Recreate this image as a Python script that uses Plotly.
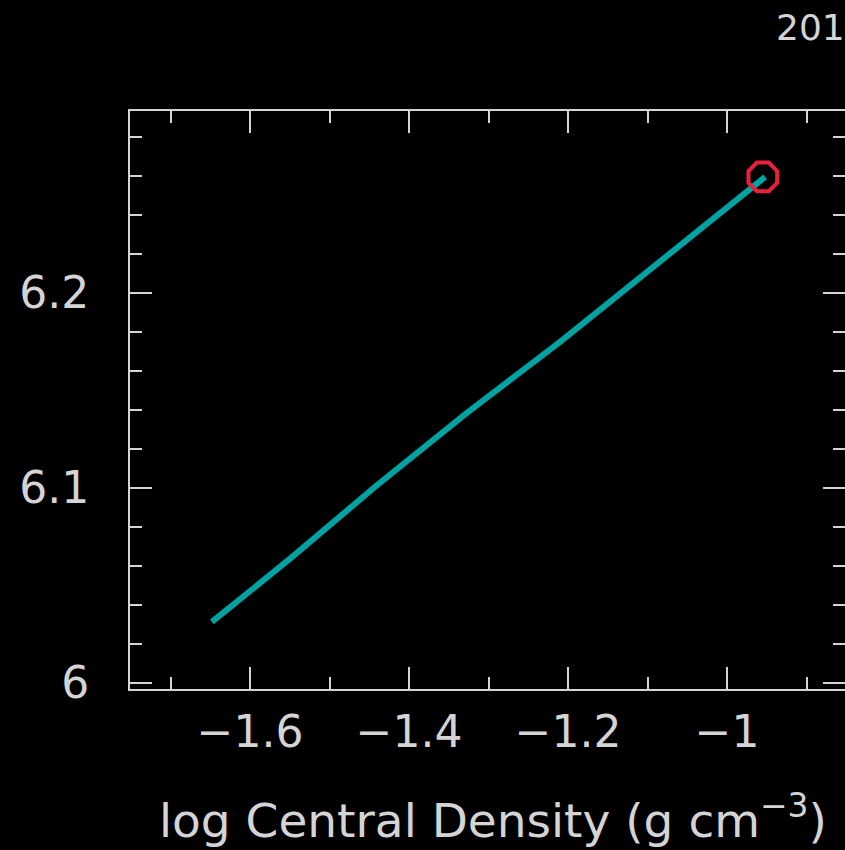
import plotly.graph_objects as go

# Data
log_rho_c = [-1.648, -1.55, -1.44, -1.33, -1.21, -1.10, -1.00, -0.952]
log_tc = [6.0313, 6.0636, 6.1015, 6.1376, 6.1749, 6.2110, 6.2437, 6.2595]
current_x = [-0.955]
current_y = [6.2595]

x_range = [-1.751, -0.8516]
y_range = [5.9969, 6.2933]

AX = "#d4d4d4"
FONT = "DejaVu Sans, Liberation Sans, sans-serif"

fig = go.Figure()
fig.add_trace(go.Scatter(x=log_rho_c, y=log_tc, mode="lines",
                         line=dict(color="#00a2a2", width=6),
                         hoverinfo="skip", showlegend=False))
fig.add_trace(go.Scatter(x=current_x, y=current_y, mode="markers",
                         marker=dict(symbol="octagon-open", size=31, color="#e8203c",
                                     line=dict(width=4, color="#e8203c")),
                         hoverinfo="skip", showlegend=False))
# invisible trace to hold the mirror axes
fig.add_trace(go.Scatter(x=log_rho_c, y=log_tc, mode="lines", xaxis="x2", yaxis="y2",
                         line=dict(color="rgba(0,0,0,0)", width=0),
                         hoverinfo="skip", showlegend=False))

common = dict(showgrid=False, zeroline=False, ticks="inside", tickcolor=AX,
              tickwidth=2, linecolor=AX, linewidth=2)
minor_x = dict(dtick=0.1, ticklen=12, tickcolor=AX, tickwidth=2, ticks="inside", showgrid=False)
minor_y = dict(dtick=0.02, ticklen=12, tickcolor=AX, tickwidth=2, ticks="inside", showgrid=False)

fig.update_layout(
    width=845, height=850,
    paper_bgcolor="black", plot_bgcolor="black",
    margin=dict(l=130, r=0, t=111, b=161),
    font=dict(family=FONT, color=AX),
    xaxis=dict(range=x_range, showline=True, tick0=-1.6, dtick=0.2, ticklen=22,
               minor=minor_x,
               tickfont=dict(size=44, color=AX, family=FONT), ticklabelstandoff=3,
               **common),
    yaxis=dict(range=y_range, showline=True, tick0=6.0, dtick=0.1, ticklen=22,
               minor=minor_y,
               tickfont=dict(size=44, color=AX, family=FONT), ticklabelstandoff=30,
               **common),
    xaxis2=dict(range=x_range, overlaying="x", side="top", anchor="y", showline=True,
                tick0=-1.6, dtick=0.2, ticklen=22, showticklabels=False,
                minor=minor_x, **common),
    yaxis2=dict(range=y_range, overlaying="y", side="right", anchor="x", showline=False,
                tick0=6.0, dtick=0.1, ticklen=22, showticklabels=False,
                minor=minor_y, **common),
    annotations=[
        dict(text="log Central Density (g cm<sup>\u22123</sup>)", xref="paper", yref="paper",
             x=0.508, y=-0.222, xanchor="center", yanchor="middle", showarrow=False,
             font=dict(size=47, color=AX, family=FONT)),
        dict(text="201", xref="paper", yref="paper", x=0.900, y=1.1436,
             xanchor="left", yanchor="middle", showarrow=False,
             font=dict(size=36, color=AX, family=FONT)),
    ],
)

fig.write_html("out.html")
